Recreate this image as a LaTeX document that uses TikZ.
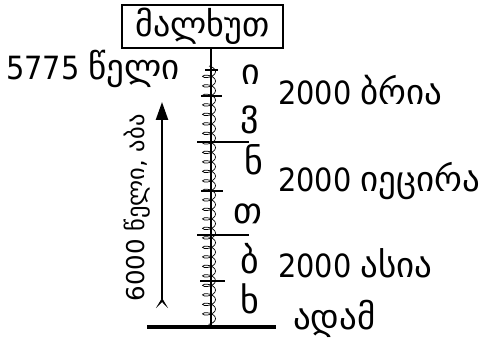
\documentclass[tikz,border=0pt]{standalone}
\usepackage{fontspec}
\setmainfont{DejaVu Sans Condensed}
\newfontfamily\geofont{DejaVu Sans}
\usetikzlibrary{decorations.pathmorphing,arrows.meta}
\newcommand\geo[1]{{\geofont\fontsize{35}{40}\selectfont #1}}
\begin{document}
\begin{tikzpicture}[x=1pt,y=1pt,
  lbl/.style={font=\fontsize{32}{36}\selectfont, inner sep=0pt},
  letter/.style={font=\geofont\fontsize{36}{40}\selectfont, inner sep=0pt, anchor=base},
  small/.style={font=\geofont\fontsize{24.5}{27}\selectfont, inner sep=0pt},
  tickline/.style={line width=2.7pt},
  coilline/.style={decorate, decoration={coil, amplitude=6.5pt, segment length=9.5pt, aspect=0.5}, line width=0.7pt}]
\useasboundingbox (0,0) rectangle (486,-344);
% box
\node[draw, line width=1.8pt, minimum width=161pt, minimum height=43pt, inner sep=0pt, font=\geofont\fontsize{34}{40}\selectfont] (box) at (202.5,-26.5) {მალხუთ};
% axis
\coordinate (bottom) at (211,-327);
\coordinate (coiltop) at (209,-66);
\coordinate (coilbot) at (209,-326);
\draw[coilline] (coiltop) -- (coilbot);
\draw[line width=2.7pt] (box.south -| bottom) -- (bottom);
% ticks
\draw[tickline] (205,-70) -- (218,-70);
\draw[tickline] (201,-96) -- (222,-96);
\draw[tickline] (197,-142) -- (249,-142);
\draw[tickline] (201,-191) -- (223,-191);
\draw[tickline] (197,-235) -- (249,-235);
\draw[tickline] (200,-281) -- (225,-281);
\coordinate (baseL) at (147,-327);
\coordinate (baseR) at (276,-327);
\draw[line width=3.2pt] (baseL) -- (baseR);
% arrow
\coordinate (arrB) at (162,-308);
\coordinate (arrT) at (162,-102);
\draw[line width=2.4pt, {Stealth[reversed,length=10pt,width=12pt,inset=6pt]}-{Triangle[length=18pt,width=12pt]}] (arrB) -- (arrT);
\node[small, rotate=90] (rot) at (137,-208) {6000 წელი, აბა};
% labels
\node[lbl, anchor=base west] (year) at (6,-80) {5775 \geo{წელი}};
\node[letter] (l1) at (251,-85) {ი};
\node[letter] (l2) at (250,-126) {ვ};
\node[letter] (l3) at (254,-175) {ნ};
\node[letter] (l4) at (248,-223) {თ};
\node[letter] (l5) at (250,-273) {ბ};
\node[letter] (l6) at (250,-313) {ხ};
\node[lbl, anchor=base west] (w1) at (278,-105) {2000 \geo{ბრია}};
\node[lbl, anchor=base west] (w2) at (278,-192) {2000 \geo{იეცირა}};
\node[lbl, anchor=base west] (w3) at (278,-277) {2000 \geo{ასია}};
\node[lbl, anchor=base west] (w4) at (293,-329) {\geo{ადამ}};
\end{tikzpicture}
\end{document}
